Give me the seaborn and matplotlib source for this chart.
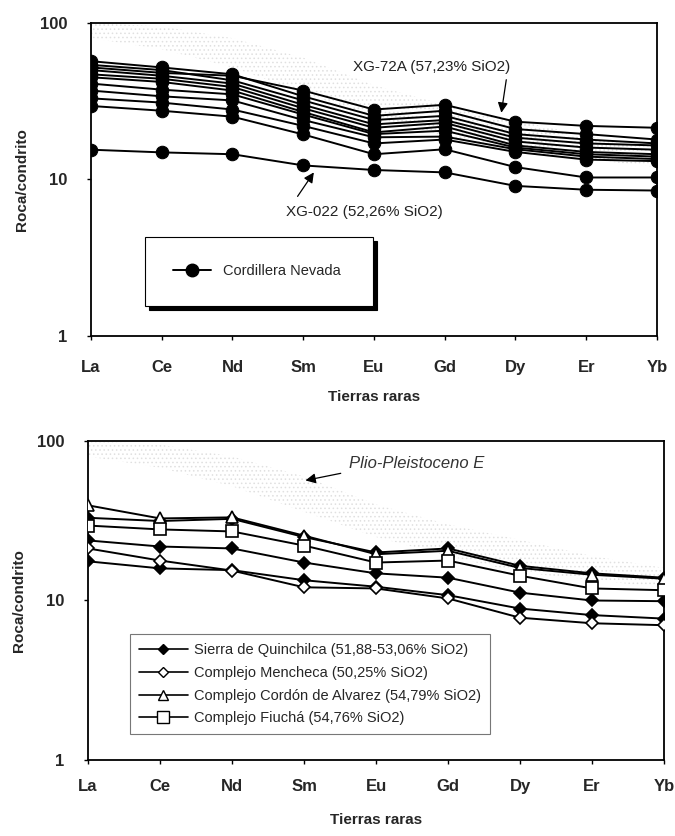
import numpy as np
import pandas as pd
import seaborn as sns
import matplotlib.pyplot as plt
from matplotlib.lines import Line2D

elements = ['La', 'Ce', 'Nd', 'Sm', 'Eu', 'Gd', 'Dy', 'Er', 'Yb']

# Cordillera Nevada (upper panel)
xg72a = [52, 48, 46, 37, 28, 30, 23.4, 22, 21.4]
cn_02 = [57, 52, 47, 34, 25.5, 27.5, 21, 19.5, 18]
cn_03 = [54, 50, 43, 32, 24, 25.5, 19.5, 18, 17]
cn_04 = [50, 46, 41, 30, 22.5, 24, 18.5, 17, 16.5]
cn_05 = [47, 44, 39, 28.5, 21.4, 23, 17.5, 16, 15.5]
cn_06 = [45, 42, 37, 27, 20, 21.8, 16.5, 15, 14.5]
cn_07 = [41, 37.5, 35, 26, 19.5, 20.5, 16, 14.5, 14]
cn_08 = [37, 34, 32, 24, 18.6, 18.8, 15.6, 14, 13.5]
cn_09 = [33, 31, 28, 22, 17, 18, 15, 13.4, 13.1]
cn_10 = [29.5, 27.5, 25.2, 19.4, 14.5, 15.6, 12, 10.3, 10.3]
xg022 = [15.5, 14.9, 14.5, 12.3, 11.5, 11.1, 9.1, 8.6, 8.5]

# lower panel
quin_1 = [33, 31.5, 32.5, 25, 20, 21.2, 16.5, 14.8, 13.9]
quin_2 = [23.8, 21.8, 21.2, 17.3, 14.8, 13.9, 11.2, 10, 9.9]
quin_3 = [17.6, 15.9, 15.5, 13.4, 12.2, 10.8, 8.9, 8.1, 7.7]
mencheca = [21.2, 17.8, 15.4, 12.1, 11.9, 10.3, 7.8, 7.2, 7.0]
alvarez = [39.5, 32.7, 33.2, 25.5, 19.5, 20.5, 16, 14.5, 13.7]
fiucha = [29.5, 27.9, 27.1, 22.1, 17.3, 17.8, 14.3, 11.9, 11.6]

# Plio-Pleistoceno E field (grey stipple)
field_hi = [100, 95, 80, 60, 40, 30, 24, 19, 16]
field_lo = [80, 68, 52, 36, 25, 19, 15, 13.5, 12]

nevada = [xg72a, cn_02, cn_03, cn_04, cn_05, cn_06, cn_07, cn_08, cn_09, cn_10, xg022]
lower_groups = [
    ('Sierra de Quinchilca (51,88-53,06% SiO2)', [quin_1, quin_2, quin_3], 'D', 'black', 6),
    ('Complejo Mencheca (50,25% SiO2)', [mencheca], 'D', 'white', 6),
    ('Complejo Cordón de Alvarez (54,79% SiO2)', [alvarez], '^', 'white', 8),
    ('Complejo Fiuchá (54,76% SiO2)', [fiucha], 's', 'white', 9),
]


def to_long(samples):
    rows = []
    for i, s in enumerate(samples):
        for j, v in enumerate(s):
            rows.append({'sample': i, 'pos': j, 'value': v})
    return pd.DataFrame(rows)


sns.set_style('ticks')
plt.rcParams['font.family'] = ['Liberation Sans', 'DejaVu Sans']
plt.rcParams['hatch.linewidth'] = 0.6

fig = plt.figure(figsize=(6.75, 8.36), dpi=100)
ax1 = fig.add_axes([0.1348, 0.5981, 0.8385, 0.3744])
ax2 = fig.add_axes([0.1304, 0.0909, 0.8533, 0.3816])

x = np.arange(len(elements))
for ax in (ax1, ax2):
    ax.fill_between(x, field_lo, field_hi, facecolor='none', edgecolor='#e0e0e0',
                    hatch='....', linewidth=0, zorder=1)

# upper panel
df_top = to_long(nevada)
sns.lineplot(data=df_top, x='pos', y='value', units='sample', estimator=None,
             color='black', marker='o', markersize=9, markeredgecolor='black',
             linewidth=1.4, ax=ax1, legend=False, zorder=3)

# lower panel
for name, samples, m, fc, ms in lower_groups:
    d = to_long(samples)
    sns.lineplot(data=d, x='pos', y='value', units='sample', estimator=None,
                 color='black', marker=m, markersize=ms, markerfacecolor=fc,
                 markeredgecolor='black', markeredgewidth=1.2, linewidth=1.4,
                 ax=ax2, legend=False, zorder=3)

for ax, tp, lp in ((ax1, 14, 11), (ax2, 11, 13)):
    ax.set_yscale('log')
    ax.set_ylim(1, 100)
    ax.set_xlim(0, len(elements) - 1)
    ax.set_xticks(x)
    ax.set_xticklabels(elements, fontsize=12, fontweight='bold')
    ax.set_yticks([1, 10, 100])
    ax.set_yticklabels(['1', '10', '100'], fontsize=12, fontweight='bold')
    ax.minorticks_off()
    ax.tick_params(axis='both', length=3, width=1, color='black')
    ax.tick_params(axis='x', pad=tp)
    ax.tick_params(axis='y', pad=14)
    ax.set_xlabel('Tierras raras', fontsize=11, fontweight='bold', labelpad=lp)
    ax.set_ylabel('Roca/condrito', fontsize=11, fontweight='bold', labelpad=8)
    for sp in ax.spines.values():
        sp.set_visible(True)
        sp.set_linewidth(1.3)
        sp.set_color('black')

arrow = dict(arrowstyle='-|>', color='black', lw=0.9, shrinkA=0, shrinkB=0,
             mutation_scale=15)

# annotations
ax1.text(4.82, 52.5, 'XG-72A (57,23% SiO2)', fontsize=11, color='#222222',
         ha='center', va='center')
ax1.annotate('', xy=(5.80, 26.7), xytext=(5.87, 43.4), arrowprops=arrow)
ax1.text(3.87, 6.17, 'XG-022 (52,26% SiO2)', fontsize=11, color='#222222',
         ha='center', va='center')
ax1.annotate('', xy=(3.15, 11.1), xytext=(2.92, 7.8), arrowprops=arrow)
ax2.text(3.62, 72.3, 'Plio-Pleistoceno E', fontsize=12, fontstyle='italic',
         color='#333333', ha='left', va='center')
ax2.annotate('', xy=(3.02, 56.6), xytext=(3.51, 62.7), arrowprops=arrow)

# legends
h_top = [Line2D([], [], color='black', marker='o', markersize=9, lw=1.4)]
leg1 = ax1.legend(h_top, ['Cordillera Nevada'], loc='lower left',
                  bbox_to_anchor=(0.083, 0.072, 0.428, 0.214), mode='expand',
                  frameon=True, fancybox=False, edgecolor='black',
                  shadow={'color': 'black', 'alpha': 1, 'ox': 3, 'oy': -3},
                  borderpad=1.9, handlelength=2.6, fontsize=10.5)
leg1.get_frame().set_linewidth(0.8)

h_bot = [Line2D([], [], color='black', marker=m, markersize=ms - 1, markerfacecolor=fc,
                markeredgecolor='black', lw=1.2) for _, _, m, fc, ms in lower_groups]
leg2 = ax2.legend(h_bot, [g[0] for g in lower_groups], loc='lower left',
                  bbox_to_anchor=(0.06, 0.058), frameon=True, fancybox=False,
                  edgecolor='#555555', fontsize=10.5, handlelength=3.4,
                  labelspacing=0.6, borderpad=0.6, handletextpad=0.4)
leg2.get_frame().set_linewidth(0.8)

fig.savefig('out.png', dpi=100)
